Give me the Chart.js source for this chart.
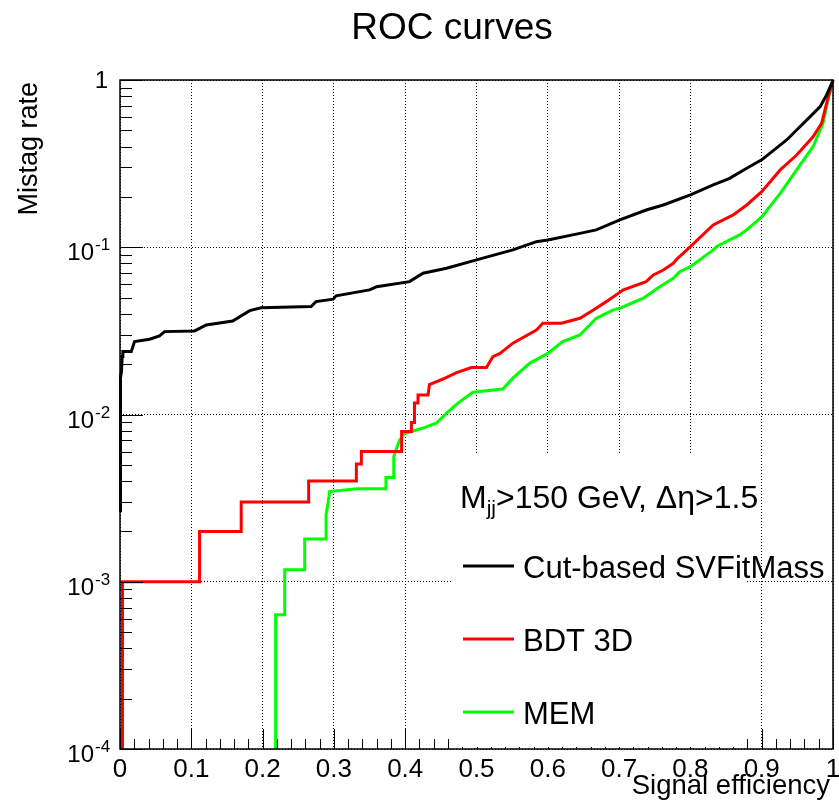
<!DOCTYPE html>
<html>
<head>
<meta charset="utf-8">
<title>ROC curves</title>
<script src="https://cdn.jsdelivr.net/npm/chart.js@4.4.1/dist/chart.umd.min.js"></script>
<style>
  html, body { margin: 0; padding: 0; background: #fff; }
  #wrap { width: 839px; height: 809px; }
</style>
</head>
<body>
<div id="wrap"><canvas id="roc" width="839" height="809"></canvas></div>
<script>
// Cut-based SVFitMass: signal efficiency vs mistag rate
const cutEff = [0.0007, 0.0007, 0.002, 0.003, 0.004, 0.0158, 0.0204, 0.0414, 0.0554, 0.0625, 0.1046, 0.121, 0.158, 0.182, 0.198, 0.268, 0.275, 0.299, 0.303, 0.350, 0.360, 0.406, 0.425, 0.458, 0.500, 0.551, 0.584, 0.600, 0.645, 0.668, 0.701, 0.738, 0.762, 0.800, 0.832, 0.855, 0.879, 0.900, 0.935, 0.949, 0.968, 0.982, 0.991, 0.998, 1.0];
const cutMistag = [0.0026, 0.0166, 0.018, 0.0222, 0.0238, 0.0238, 0.0273, 0.0282, 0.0295, 0.0313, 0.0316, 0.0343, 0.0362, 0.0418, 0.0435, 0.0442, 0.0473, 0.0489, 0.0512, 0.0556, 0.0581, 0.0623, 0.0699, 0.0749, 0.084, 0.0964, 0.108, 0.1106, 0.121, 0.127, 0.1456, 0.167, 0.179, 0.2055, 0.236, 0.258, 0.297, 0.333, 0.438, 0.502, 0.604, 0.693, 0.813, 0.95, 1.0];

// BDT 3D
const bdtEff = [0.0035, 0.0035, 0.1116, 0.1116, 0.170, 0.170, 0.2646, 0.2646, 0.3315, 0.3315, 0.3385, 0.3385, 0.395, 0.395, 0.4087, 0.4087, 0.413, 0.413, 0.418, 0.418, 0.432, 0.434, 0.453, 0.472, 0.493, 0.514, 0.523, 0.533, 0.551, 0.584, 0.593, 0.619, 0.645, 0.664, 0.682, 0.706, 0.738, 0.748, 0.762, 0.776, 0.781, 0.800, 0.832, 0.860, 0.879, 0.900, 0.926, 0.949, 0.972, 0.984, 0.991, 1.0];
const bdtMistag = [0.0001, 0.001, 0.001, 0.002, 0.002, 0.003, 0.003, 0.004, 0.004, 0.00505, 0.00505, 0.006, 0.006, 0.0079, 0.0079, 0.00895, 0.00895, 0.0117, 0.0117, 0.0131, 0.0131, 0.0151, 0.0163, 0.0178, 0.0191, 0.0191, 0.0222, 0.0232, 0.0267, 0.032, 0.0351, 0.0351, 0.0376, 0.0422, 0.0473, 0.0556, 0.0623, 0.0683, 0.0731, 0.0802, 0.085, 0.101, 0.136, 0.156, 0.179, 0.215, 0.29, 0.356, 0.458, 0.551, 0.726, 1.0];

// MEM
const memEff = [0.2183, 0.2183, 0.231, 0.231, 0.259, 0.259, 0.289, 0.289, 0.292, 0.294, 0.333, 0.373, 0.373, 0.384, 0.384, 0.388, 0.392, 0.399, 0.425, 0.444, 0.458, 0.474, 0.493, 0.495, 0.537, 0.551, 0.575, 0.600, 0.621, 0.645, 0.668, 0.692, 0.701, 0.734, 0.757, 0.776, 0.785, 0.800, 0.832, 0.837, 0.869, 0.879, 0.900, 0.926, 0.949, 0.972, 0.986, 0.993, 1.0];
const memMistag = [0.0001, 0.000634, 0.000634, 0.00118, 0.00118, 0.0018, 0.0018, 0.0025, 0.0030, 0.00346, 0.0036, 0.0036, 0.0042, 0.0042, 0.0056, 0.0063, 0.0070, 0.0077, 0.0083, 0.0089, 0.0102, 0.0117, 0.0134, 0.0136, 0.0142, 0.0165, 0.0203, 0.0232, 0.0273, 0.0299, 0.0376, 0.0422, 0.0432, 0.0496, 0.058, 0.0652, 0.0715, 0.0766, 0.0964, 0.101, 0.1185, 0.127, 0.152, 0.21, 0.29, 0.399, 0.551, 0.76, 1.0];

// Axis tick labels
const xTickLabels = ['0', '0.1', '0.2', '0.3', '0.4', '0.5', '0.6', '0.7', '0.8', '0.9', '1'];
const yDecadeExponents = [0, -1, -2, -3, -4];

const seriesNames = ['Cut-based SVFitMass', 'BDT 3D', 'MEM'];
const seriesColors = ['#000000', '#ff0000', '#00ff00'];

const FONT = '"Liberation Sans", Arimo, Helvetica, Arial, sans-serif';

function toPoints(xs, ys) {
  return xs.map((v, i) => ({ x: v, y: ys[i] }));
}

// Axis ticks, frame, legend and text in the ROOT style
const rootStyle = {
  id: 'rootStyle',
  afterDatasetsDraw(chart) {
    const { ctx, chartArea: a, scales } = chart;
    const xs = scales.x, ys = scales.y;
    ctx.save();

    // tick marks pointing into the frame
    ctx.strokeStyle = '#000';
    ctx.lineWidth = 1;
    ctx.beginPath();
    for (let i = 0; i <= 50; i++) {
      const px = Math.round(xs.getPixelForValue(i / 50)) + 0.5;
      const len = (i % 5 === 0) ? 20 : 10;
      ctx.moveTo(px, a.bottom);
      ctx.lineTo(px, a.bottom - len);
    }
    for (let d = -4; d <= 0; d++) {
      for (let m = 1; m <= 9; m++) {
        const v = m * Math.pow(10, d);
        if (v > 1.0001) break;
        const py = Math.round(ys.getPixelForValue(v)) + 0.5;
        const len = (m === 1) ? 23 : 12;
        ctx.moveTo(a.left, py);
        ctx.lineTo(a.left + len, py);
      }
    }
    ctx.stroke();

    // legend box (opaque, no border)
    const lx0 = 452, ly0 = 453, lx1 = 745, ly1 = 747;
    ctx.fillStyle = '#fff';
    ctx.fillRect(lx0, ly0, lx1 - lx0, ly1 - ly0);

    // frame
    ctx.strokeStyle = '#000';
    ctx.lineWidth = 1.5;
    ctx.strokeRect(a.left, a.top, a.right - a.left, a.bottom - a.top);

    ctx.fillStyle = '#000';
    ctx.textBaseline = 'alphabetic';

    // x tick labels
    ctx.font = '26px ' + FONT;
    ctx.textAlign = 'center';
    xTickLabels.forEach((lab, i) => {
      ctx.fillText(lab, xs.getPixelForValue(i / 10), 777);
    });

    // y tick labels with exponents
    yDecadeExponents.forEach(e => {
      const py = ys.getPixelForValue(Math.pow(10, e));
      if (e === 0) {
        ctx.font = '24px ' + FONT;
        ctx.textAlign = 'right';
        ctx.fillText('1', 108, py + 8);
      } else {
        ctx.font = '24px ' + FONT;
        ctx.textAlign = 'right';
        ctx.fillText('10', 94, py + 13);
        ctx.font = '17px ' + FONT;
        ctx.textAlign = 'left';
        ctx.fillText(String(e), 95, py + 3);
      }
    });

    // axis titles
    ctx.font = '27.5px ' + FONT;
    ctx.textAlign = 'right';
    ctx.fillText('Signal efficiency', 830, 794);
    ctx.font = '27px ' + FONT;
    ctx.save();
    ctx.translate(37, 82);
    ctx.rotate(-Math.PI / 2);
    ctx.textAlign = 'right';
    ctx.fillText('Mistag rate', 0, 0);
    ctx.restore();

    // title
    ctx.font = '37px ' + FONT;
    ctx.textAlign = 'center';
    ctx.fillText('ROC curves', 452, 39);

    // legend header: M_jj>150 GeV, Δη>1.5
    ctx.textAlign = 'left';
    let hx = 460;
    const hy = 508;
    ctx.font = '32px ' + FONT;
    ctx.fillText('M', hx, hy);
    hx += ctx.measureText('M').width;
    ctx.font = '21px ' + FONT;
    ctx.fillText('jj', hx, hy + 7);
    hx += ctx.measureText('jj').width;
    ctx.font = '32px ' + FONT;
    ctx.fillText('>150 GeV, \u0394\u03b7>1.5', hx, hy);

    // legend entries
    const rows = [566, 639, 712];
    chart.data.datasets.forEach((ds, i) => {
      const ry = rows[i];
      ctx.strokeStyle = ds.borderColor;
      ctx.lineWidth = 3;
      ctx.beginPath();
      ctx.moveTo(463, ry);
      ctx.lineTo(514, ry);
      ctx.stroke();
      ctx.font = '31px ' + FONT;
      ctx.fillStyle = '#000';
      ctx.textAlign = 'left';
      ctx.fillText(ds.label, 523, ry + 12);
    });

    ctx.restore();
  }
};

const datasets = [
  { label: seriesNames[0], data: toPoints(cutEff, cutMistag), borderColor: seriesColors[0] },
  { label: seriesNames[1], data: toPoints(bdtEff, bdtMistag), borderColor: seriesColors[1] },
  { label: seriesNames[2], data: toPoints(memEff, memMistag), borderColor: seriesColors[2] }
].map(d => Object.assign(d, {
  showLine: true,
  fill: false,
  borderWidth: 3,
  pointRadius: 0,
  tension: 0,
  borderJoinStyle: 'miter',
  clip: false
}));

new Chart(document.getElementById('roc'), {
  type: 'scatter',
  data: { datasets },
  options: {
    responsive: false,
    animation: false,
    devicePixelRatio: 1,
    layout: { padding: { top: 80, right: 6, left: 0, bottom: 0 } },
    plugins: { legend: { display: false }, title: { display: false }, tooltip: { enabled: false } },
    scales: {
      x: {
        type: 'linear',
        min: 0,
        max: 1,
        ticks: { display: false, stepSize: 0.1 },
        grid: { color: '#000', lineWidth: 1, drawTicks: false },
        border: { display: false, dash: [1, 2] },
        afterFit(s) { s.height = 60; }
      },
      y: {
        type: 'logarithmic',
        min: 1e-4,
        max: 1,
        ticks: { display: false },
        afterBuildTicks(s) {
          s.ticks = yDecadeExponents.map(e => ({ value: Math.pow(10, e) }));
        },
        grid: { color: '#000', lineWidth: 1, drawTicks: false },
        border: { display: false, dash: [1, 2] },
        afterFit(s) { s.width = 120; }
      }
    }
  },
  plugins: [rootStyle]
});
</script>
</body>
</html>
